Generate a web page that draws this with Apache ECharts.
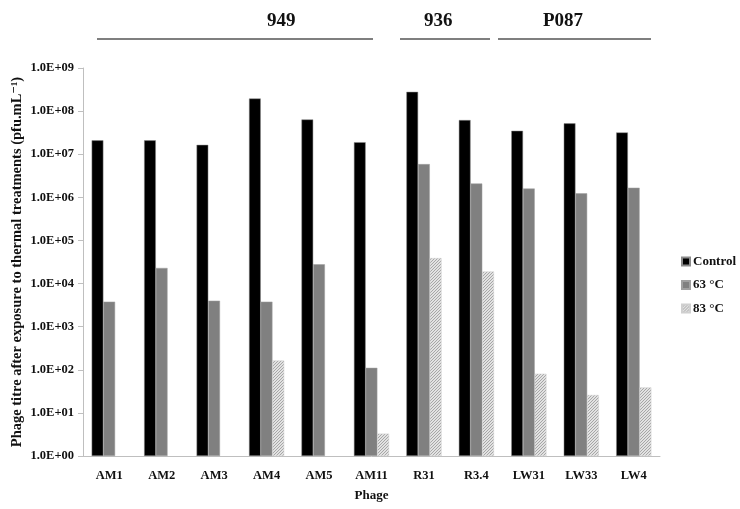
<!DOCTYPE html>
<html>
<head>
<meta charset="utf-8">
<script src="https://cdn.jsdelivr.net/npm/echarts@6/dist/echarts.min.js"></script>
<style>
  html, body { margin: 0; padding: 0; background: #fff; }
  #main { width: 740px; height: 509px; }
</style>
</head>
<body>
<div id="main"></div>
<script>
// 数据
var phages = ['AM1', 'AM2', 'AM3', 'AM4', 'AM5', 'AM11', 'R31', 'R3.4', 'LW31', 'LW33', 'LW4'];
var control = [2.1e7, 2.1e7, 1.65e7, 1.96e8, 6.4e7, 1.9e7, 2.8e8, 6.2e7, 3.5e7, 5.2e7, 3.2e7];
var t63 = [3.8e3, 2.3e4, 4.0e3, 3.8e3, 2.8e4, 1.11e2, 5.9e6, 2.1e6, 1.6e6, 1.24e6, 1.67e6];
var t83 = [null, null, null, 1.64e2, null, 3.3, 3.9e4, 1.9e4, 81, 26, 39];
var yTicks = [1, 1e1, 1e2, 1e3, 1e4, 1e5, 1e6, 1e7, 1e8, 1e9];

var serif = '"Liberation Serif", "DejaVu Serif", serif';

// 83 °C 斜线填充（细密）
function hatch() {
	var c = document.createElement('canvas');
	c.width = 3; c.height = 3;
	var ctx = c.getContext('2d');
	ctx.fillStyle = '#e2e2e2';
	ctx.fillRect(0, 0, 3, 3);
	ctx.fillStyle = '#a6a6a6';
	ctx.fillRect(2, 0, 1, 1);
	ctx.fillRect(1, 1, 1, 1);
	ctx.fillRect(0, 2, 1, 1);
	return c;
}

var chart = echarts.init(document.getElementById('main'));

var option = {
	animation: false,
	backgroundColor: '#fff',
	grid: { left: 83, right: 80, top: 68, bottom: 53, outerBoundsMode: 'none', containLabel: false },
	legend: {
		orient: 'vertical',
		left: 676,
		top: 250,
		itemWidth: 8,
		itemHeight: 8,
		itemGap: 10.5,
		icon: 'rect',
		textStyle: { fontFamily: serif, fontWeight: 'bold', fontSize: 13, color: '#111', padding: [0, 0, 0, -2] },
		data: ['Control', '63 °C', '83 °C']
	},
	xAxis: {
		type: 'category',
		data: phages,
		name: 'Phage',
		nameLocation: 'middle',
		nameGap: 33,
		nameMoveOverlap: false,
		nameTextStyle: { fontFamily: serif, fontWeight: 'bold', fontSize: 13, color: '#111' },
		axisLine: { lineStyle: { color: '#bfbfbf' } },
		axisTick: { lineStyle: { color: '#bfbfbf' }, length: 5 },
		axisLabel: { fontFamily: serif, fontWeight: 'bold', fontSize: 12.5, color: '#111', margin: 13 }
	},
	yAxis: {
		type: 'log',
		logBase: 10,
		min: 1,
		max: 1e9,
		splitNumber: 10,
		name: 'Phage titre after exposure to thermal treatments (pfu.mL⁻¹)',
		nameLocation: 'middle',
		nameGap: 58,
		nameMoveOverlap: false,
		nameTextStyle: { fontFamily: serif, fontWeight: 'bold', fontSize: 14.5, color: '#111' },
		axisLine: { show: true, lineStyle: { color: '#bfbfbf' } },
		axisTick: { show: true, lineStyle: { color: '#bfbfbf' }, length: 5 },
		splitLine: { show: false },
		axisLabel: {
			fontFamily: serif, fontWeight: 'bold', fontSize: 12.5, color: '#111', margin: 9,
			formatter: function (v) {
				var e = Math.round(Math.log10(v));
				if (yTicks.indexOf(Math.pow(10, e)) < 0) return '';
				return '1.0E+' + (e < 10 ? '0' + e : e);
			}
		}
	},
	series: [
		{
			name: 'Control',
			type: 'bar',
			data: control,
			barGap: '0%',
			barCategoryGap: '33%',
			itemStyle: { color: '#000', borderColor: '#8a8a8a', borderWidth: 0.5 }
		},
		{
			name: '63 °C',
			type: 'bar',
			data: t63,
			itemStyle: { color: '#808080', borderColor: '#a0a0a0', borderWidth: 0.5 }
		},
		{
			name: '83 °C',
			type: 'bar',
			data: t83,
			itemStyle: { color: { image: hatch(), repeat: 'repeat' }, borderColor: '#d0d0d0', borderWidth: 0.5 }
		}
	],
	// 菌株分组标注
	graphic: [
		{ type: 'text', left: 267, top: 12, style: { text: '949', font: 'bold 19px ' + serif, fill: '#111' } },
		{ type: 'line', shape: { x1: 97, y1: 39, x2: 373, y2: 39 }, style: { stroke: '#555', lineWidth: 1.5 } },
		{ type: 'text', left: 424, top: 12, style: { text: '936', font: 'bold 19px ' + serif, fill: '#111' } },
		{ type: 'line', shape: { x1: 400, y1: 39, x2: 490, y2: 39 }, style: { stroke: '#555', lineWidth: 1.5 } },
		{ type: 'text', left: 543, top: 12, style: { text: 'P087', font: 'bold 19px ' + serif, fill: '#111' } },
		{ type: 'line', shape: { x1: 498, y1: 39, x2: 651, y2: 39 }, style: { stroke: '#555', lineWidth: 1.5 } }
	]
};

chart.setOption(option);
</script>
</body>
</html>
